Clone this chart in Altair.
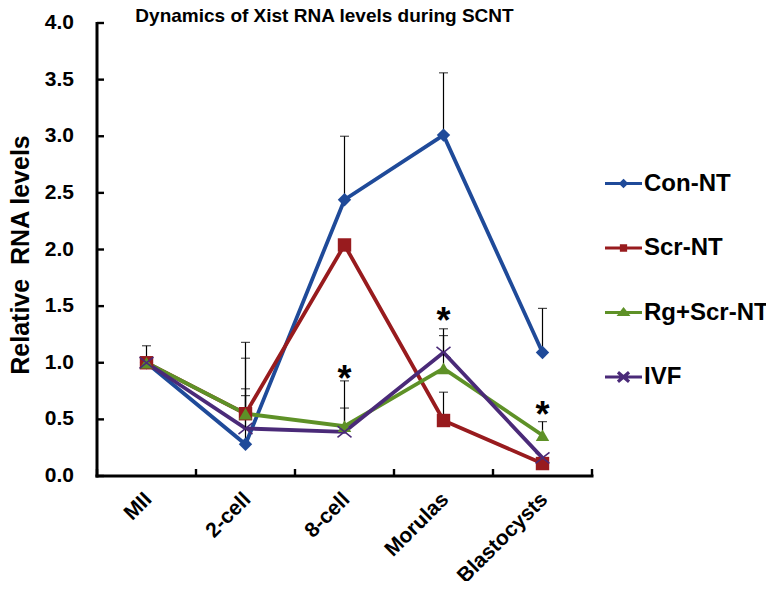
import altair as alt
import pandas as pd

# ---------------- data ----------------
stages = ["MII", "2-cell", "8-cell", "Morulas", "Blastocysts"]
series = ["Con-NT", "Scr-NT", "Rg+Scr-NT", "IVF"]
colors = ["#1F4A99", "#981B1E", "#5E9127", "#4A2A78"]

con_nt = [1.00, 0.28, 2.44, 3.01, 1.09]
scr_nt = [1.00, 0.55, 2.04, 0.49, 0.11]
rg_scr_nt = [1.00, 0.55, 0.44, 0.95, 0.36]
ivf = [1.00, 0.42, 0.39, 1.09, 0.16]

con_nt_err = [1.15, 1.18, 3.00, 3.56, 1.48]
scr_nt_err = [None, 1.04, None, 0.74, None]
rg_scr_nt_err = [None, 0.71, 0.84, 1.24, 0.48]
ivf_err = [None, 0.77, 0.60, 1.30, None]

star_stages = ["8-cell", "Morulas", "Blastocysts"]
star_values = [0.91, 1.42, 0.59]

y_ticks = [0.0, 0.5, 1.0, 1.5, 2.0, 2.5, 3.0, 3.5, 4.0]
y_tick_labels = ["0.0", "0.5", "1.0", "1.5", "2.0", "2.5", "3.0", "3.5", "4.0"]
title_text = "Dynamics of Xist RNA levels during SCNT"
y_title_text = "Relative\u00a0 RNA levels"

# ---------------- tables ----------------
rows = []
for name, vals, errs in zip(series,
                            [con_nt, scr_nt, rg_scr_nt, ivf],
                            [con_nt_err, scr_nt_err, rg_scr_nt_err, ivf_err]):
    for st, v, e in zip(stages, vals, errs):
        rows.append({"stage": st, "series": name, "legend": name, "value": v, "err": e})
df = pd.DataFrame(rows)
df_err = df.dropna(subset=["err"])
df_filled = df[df["series"] != "IVF"]
df_ivf = df[df["series"] == "IVF"]
df_star = pd.DataFrame({"stage": star_stages, "value": star_values})
df_yt = pd.DataFrame({"value": y_ticks, "label": y_tick_labels})
df_xt = pd.DataFrame({"stage": stages})
df_xt_end = pd.DataFrame({"stage": stages[-1:]})
df_one = pd.DataFrame({"title": [title_text], "ytitle": [y_title_text]})

FONT = "Liberation Sans"
W, H = 495, 453

xscale = alt.Scale(type="band", domain=stages, paddingInner=0, paddingOuter=0)
yscale = alt.Scale(domain=[0, 4], nice=False, zero=True)
cscale = alt.Scale(domain=series, range=colors)

X = lambda **kw: alt.X("stage:N", sort=stages, scale=xscale, axis=None, **kw)
Y = lambda f="value": alt.Y(f"{f}:Q", scale=yscale, axis=None)

lines = alt.Chart(df).mark_line(strokeWidth=3.8).encode(
    x=X(), y=Y(),
    color=alt.Color("series:N", scale=cscale, legend=None),
)

# axis lines, inward ticks and axis labels
frame = alt.Chart(df_one)
y_domain = frame.mark_rule(color="black", strokeWidth=3).encode(
    x=alt.value(0), y=alt.value(-1), y2=alt.value(H + 1.5))
x_domain = frame.mark_rule(color="black", strokeWidth=3).encode(
    y=alt.value(H), x=alt.value(-1.5), x2=alt.value(W + 1.5))
y_ticks_layer = alt.Chart(df_yt).mark_rule(color="black", strokeWidth=2.4).encode(
    y=Y(), x=alt.value(0), x2=alt.value(7),
)
x_ticks_layer = alt.Chart(df_xt).mark_rule(color="black", strokeWidth=2.4).encode(
    x=X(bandPosition=0), y=alt.value(H), y2=alt.value(H - 7),
)
x_tick_end = alt.Chart(df_xt_end).mark_rule(color="black", strokeWidth=2.4).encode(
    x=X(bandPosition=1), y=alt.value(H), y2=alt.value(H - 7),
)
y_labels = alt.Chart(df_yt).mark_text(font=FONT, fontSize=21, fontWeight="bold",
                                      color="black", align="right",
                                      baseline="middle").encode(
    y=Y(), x=alt.value(-23), text="label:N",
)
x_labels = alt.Chart(df_xt).mark_text(font=FONT, fontSize=21, fontWeight="bold",
                                      color="black", align="right", baseline="top",
                                      angle=315, dx=-8).encode(
    x=X(), y=alt.value(H + 7), text="stage:N",
)
title_layer = frame.mark_text(font=FONT, fontSize=19, fontWeight="bold", color="black",
                              align="center", baseline="alphabetic").encode(
    text="title:N", x=alt.value(W / 2 - 20), y=alt.value(-1))
y_title_layer = frame.mark_text(font=FONT, fontSize=25, fontWeight="bold", color="black",
                                align="center", baseline="middle", angle=270).encode(
    text="ytitle:N", x=alt.value(-76), y=alt.value(232))

err_rules = alt.Chart(df_err).mark_rule(color="black", strokeWidth=1.2).encode(
    x=X(), y=Y(), y2="err:Q",
)

err_caps = alt.Chart(df_err).mark_tick(color="black", thickness=1.2, size=9,
                                       orient="horizontal").encode(
    x=X(), y=Y("err"),
)

pts = alt.Chart(df_filled).mark_point(filled=True, size=180, opacity=1).encode(
    x=X(), y=Y(),
    color=alt.Color("series:N", scale=cscale, legend=None),
    shape=alt.Shape("series:N", scale=alt.Scale(domain=series[:3],
                    range=["diamond", "square", "triangle-up"]), legend=None),
)

ivf_pts = alt.Chart(df_ivf).mark_point(
    filled=False, size=196, strokeWidth=1.6, opacity=1,
    shape="M-1,-0.8L1,0.8M-1,0.8L1,-0.8",
).encode(
    x=X(), y=Y(),
    color=alt.Color("series:N", scale=cscale, legend=None),
)

stars = alt.Chart(df_star).mark_text(text="*", font=FONT, fontSize=36, fontWeight="bold",
                                     color="black", baseline="alphabetic", dy=18).encode(
    x=X(), y=Y(),
)

leg_paths = [
    "M-1,0L1,0M0,-0.14L0.14,0L0,0.14L-0.14,0Z",
    "M-1,0L1,0M-0.11,-0.11L0.11,-0.11L0.11,0.11L-0.11,0.11Z",
    "M-1,0L1,0M0,-0.16L0.2,0.1L-0.2,0.1Z",
    "M-1,0L1,0M-0.3,-0.26L0.3,0.26M-0.3,0.26L0.3,-0.26",
]
leg = alt.Legend(title=None, orient="none", legendX=506, legendY=140,
                 labelFont=FONT, labelFontSize=24, labelFontWeight="bold",
                 labelColor="black", symbolSize=1369, symbolStrokeWidth=3.2,
                 rowPadding=31.5, labelOffset=0, padding=0, labelLimit=0,
                 symbolOpacity=1)
legend_layer = alt.Chart(df).mark_point(filled=False, opacity=0).encode(
    x=X(), y=Y(),
    color=alt.Color("legend:N", scale=alt.Scale(domain=series, range=colors), legend=leg),
    shape=alt.Shape("legend:N", scale=alt.Scale(domain=series, range=leg_paths), legend=leg),
)

chart = alt.layer(
    lines, err_rules, err_caps, pts, ivf_pts, stars,
    y_domain, x_domain, y_ticks_layer, x_ticks_layer, x_tick_end,
    y_labels, x_labels, title_layer, y_title_layer,
    legend_layer
).resolve_scale(
    color="independent", shape="independent"
).properties(
    width=W, height=H,
    background="white",
    autosize=alt.AutoSizeParams(type="none"),
    padding={"left": 89, "top": 15, "right": 174, "bottom": 105},
).configure_view(strokeWidth=0)

chart.save("out.html", embed_options={"renderer": "svg", "actions": False})
